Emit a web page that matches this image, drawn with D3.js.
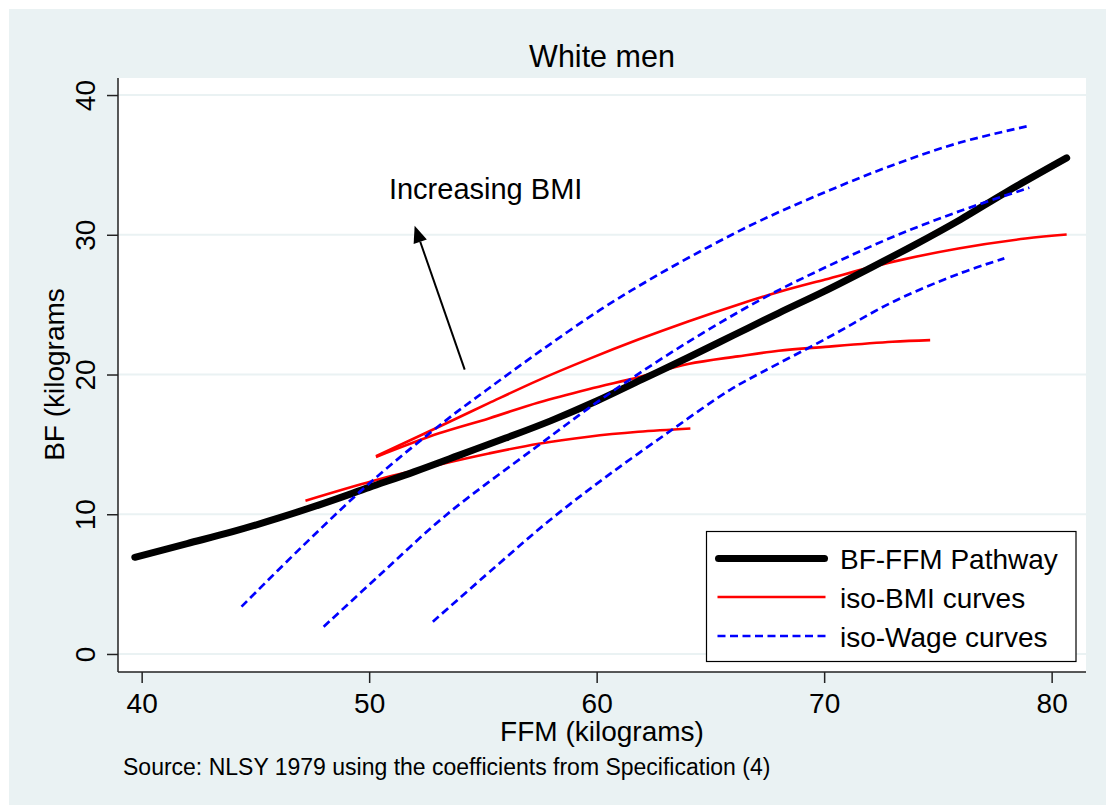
<!DOCTYPE html>
<html>
<head>
<meta charset="utf-8">
<script src="https://cdn.jsdelivr.net/npm/d3@7"></script>
<style>
  html, body { margin: 0; padding: 0; background: #fff; }
  svg { display: block; font-family: "Liberation Sans", Arial, sans-serif; }
</style>
</head>
<body>
<div id="chart"></div>
<script>
// ---- data ----
const xTicks = [40, 50, 60, 70, 80];
const yTicks = [0, 10, 20, 30, 40];

// BF-FFM pathway
const pathFFM = [39.7, 42, 44, 46, 48, 50, 52, 54, 56, 58, 60, 62, 64, 66, 68, 70, 72, 74, 76, 78, 80.66];
const pathBF  = [6.92, 7.9, 8.75, 9.72, 10.78, 11.92, 13.05, 14.25, 15.45, 16.7, 18.1, 19.65, 21.2, 22.8, 24.4, 25.95, 27.6, 29.3, 31.1, 33.05, 35.5];

// iso-BMI curves
const bmi1FFM = [47.2, 50.2, 53.07, 55.26, 57.45, 59.64, 61.83, 64.12];
const bmi1BF  = [10.97, 12.4, 13.55, 14.35, 15.05, 15.55, 15.9, 16.14];
const bmi2FFM = [50.3, 53.07, 55.26, 57.45, 59.64, 61.83, 64.02, 66.21, 68.0, 70.05, 73.0, 75.9, 78.85, 80.66];
const bmi2BF  = [14.15, 16.26, 17.95, 19.6, 21.1, 22.5, 23.8, 25.0, 25.9, 26.8, 28.06, 29.02, 29.73, 30.02];
const bmi3FFM = [50.3, 53.07, 55.26, 57.45, 59.64, 61.83, 64.02, 66.21, 68.0, 70.05, 73.0, 74.66];
const bmi3BF  = [14.1, 15.79, 16.86, 18.0, 18.95, 19.8, 20.75, 21.3, 21.7, 21.98, 22.34, 22.46];

// iso-Wage curves
const wage1FFM = [44.39, 47, 50.09, 53.39, 55.16, 57.5, 60.15, 62.5, 65, 67.18, 70.11, 73.04, 75.97, 79.02];
const wage1BF  = [3.39, 7.6, 12.33, 16.74, 18.89, 21.65, 24.62, 26.95, 29.2, 31.0, 33.1, 35.0, 36.6, 37.8];
const wage2FFM = [48.0, 50.5, 53.39, 57.36, 60.15, 63.5, 67.18, 70.11, 73.04, 75.97, 79.02];
const wage2BF  = [1.95, 5.7, 9.95, 14.83, 18.17, 21.8, 25.33, 27.71, 29.86, 31.7, 33.37];
const wage3FFM = [52.8, 55.5, 57.95, 60.5, 63.3, 65.85, 67.18, 70.11, 73.04, 75.97, 77.92];
const wage3BF  = [2.31, 6.17, 9.59, 12.78, 16.03, 18.89, 20.09, 22.59, 25.21, 27.24, 28.31];

// annotation
const arrowFrom = [54.2, 20.35];
const arrowTo = [52.0, 30.65];
const noteAt = [50.87, 32.54];

const legendItems = ['BF-FFM Pathway', 'iso-BMI curves', 'iso-Wage curves'];

// ---- layout ----
const W = 1106, H = 805;
const plot = { left: 118, top: 78, right: 1086, bottom: 672 };
const bg = '#eaf2f3';
const font = 28;

const svg = d3.select('#chart').append('svg')
    .attr('width', W)
    .attr('height', H);

svg.append('rect')
    .attr('x', 9).attr('y', 9)
    .attr('width', W - 9).attr('height', H - 9)
    .attr('fill', bg);

svg.append('rect')
    .attr('x', plot.left).attr('y', plot.top)
    .attr('width', plot.right - plot.left)
    .attr('height', plot.bottom - plot.top)
    .attr('fill', '#fff');

const x = d3.scaleLinear().domain([38.96, 81.51]).range([plot.left, plot.right]);
const y = d3.scaleLinear().domain([-1.29, 41.22]).range([plot.bottom, plot.top]);

// grid
svg.append('g')
    .selectAll('line')
    .data(yTicks)
    .enter()
    .append('line')
    .attr('x1', plot.left).attr('x2', plot.right)
    .attr('y1', d => y(d)).attr('y2', d => y(d))
    .attr('stroke', bg)
    .attr('stroke-width', 2);

// axes
const xAxis = svg.append('g')
    .attr('transform', `translate(0,${plot.bottom})`)
    .call(d3.axisBottom(x).tickValues(xTicks).tickSize(11).tickSizeOuter(0));
const yAxis = svg.append('g')
    .attr('transform', `translate(${plot.left},0)`)
    .call(d3.axisLeft(y).tickValues(yTicks).tickSize(11).tickSizeOuter(0));

[xAxis, yAxis].forEach(g => {
    g.select('.domain').attr('stroke', '#222').attr('stroke-width', 1.5);
    g.selectAll('.tick line').attr('stroke', '#222').attr('stroke-width', 1.5);
    g.selectAll('text').attr('font-size', font).attr('fill', '#000')
        .attr('font-family', '"Liberation Sans", Arial, sans-serif');
});
// axis lines run the full plot region
xAxis.select('.domain').attr('d', `M${plot.left},0H${plot.right}`);
yAxis.select('.domain').attr('d', `M0,${plot.top}V${plot.bottom}`);

xAxis.selectAll('.tick text').attr('dy', null).attr('y', 41);
yAxis.selectAll('.tick text')
    .attr('x', null).attr('dy', null)
    .attr('text-anchor', 'middle')
    .attr('transform', 'translate(-23,0) rotate(-90)');

// titles
svg.append('text')
    .attr('x', (plot.left + plot.right) / 2).attr('y', 67)
    .attr('text-anchor', 'middle')
    .attr('font-size', 30.5)
    .text('White men');

svg.append('text')
    .attr('x', (plot.left + plot.right) / 2).attr('y', 741)
    .attr('text-anchor', 'middle')
    .attr('font-size', font)
    .text('FFM (kilograms)');

svg.append('text')
    .attr('transform', `translate(64,${y(20)}) rotate(-90)`)
    .attr('text-anchor', 'middle')
    .attr('font-size', font)
    .text('BF (kilograms');

svg.append('text')
    .attr('x', 123).attr('y', 775)
    .attr('font-size', 23)
    .text('Source: NLSY 1979 using the coefficients from Specification (4)');

// curves
const line = d3.line()
    .x(d => x(d[0]))
    .y(d => y(d[1]))
    .curve(d3.curveCatmullRom.alpha(0.5));

const zip = (a, b) => a.map((v, i) => [v, b[i]]);

const wages = [zip(wage1FFM, wage1BF), zip(wage2FFM, wage2BF), zip(wage3FFM, wage3BF)];
const bmis = [zip(bmi1FFM, bmi1BF), zip(bmi2FFM, bmi2BF), zip(bmi3FFM, bmi3BF)];

const curves = svg.append('g');

curves.selectAll('path.bmi')
    .data(bmis)
    .enter()
    .append('path')
    .attr('class', 'bmi')
    .attr('d', line)
    .attr('fill', 'none')
    .attr('stroke', '#ff0000')
    .attr('stroke-width', 2.6);

curves.append('path')
    .attr('d', line(zip(pathFFM, pathBF)))
    .attr('fill', 'none')
    .attr('stroke', '#000')
    .attr('stroke-width', 7)
    .attr('stroke-linecap', 'round')
    .attr('stroke-linejoin', 'round');

curves.selectAll('path.wage')
    .data(wages)
    .enter()
    .append('path')
    .attr('class', 'wage')
    .attr('d', line)
    .attr('fill', 'none')
    .attr('stroke', '#0000ff')
    .attr('stroke-width', 2.7)
    .attr('stroke-dasharray', '8,4.5');

// annotation arrow
const ax0 = x(arrowFrom[0]), ay0 = y(arrowFrom[1]);
const ax1 = x(arrowTo[0]), ay1 = y(arrowTo[1]);
const ang = Math.atan2(ay1 - ay0, ax1 - ax0);
const headLen = 17, headHalf = 7;
const bx = ax1 - headLen * Math.cos(ang), by = ay1 - headLen * Math.sin(ang);

svg.append('line')
    .attr('x1', ax0).attr('y1', ay0)
    .attr('x2', bx).attr('y2', by)
    .attr('stroke', '#000')
    .attr('stroke-width', 2);

svg.append('path')
    .attr('d', `M${ax1},${ay1}L${bx + headHalf * Math.sin(ang)},${by - headHalf * Math.cos(ang)}L${bx - headHalf * Math.sin(ang)},${by + headHalf * Math.cos(ang)}Z`)
    .attr('fill', '#000');

svg.append('text')
    .attr('x', x(noteAt[0])).attr('y', y(noteAt[1]))
    .attr('font-size', 29)
    .text('Increasing BMI');

// legend
const legend = svg.append('g').attr('transform', 'translate(706.5,531.5)');
legend.append('rect')
    .attr('width', 369.5).attr('height', 130)
    .attr('fill', '#fff')
    .attr('stroke', '#000')
    .attr('stroke-width', 1.2);

const rows = legend.selectAll('g.row')
    .data(legendItems)
    .enter()
    .append('g')
    .attr('class', 'row')
    .attr('transform', (d, i) => `translate(0,${[27, 65.5, 104.5][i]})`);

rows.append('line')
    .attr('x1', (d, i) => i === 0 ? 12 : 11)
    .attr('x2', (d, i) => i === 0 ? 118 : 119)
    .attr('stroke', (d, i) => ['#000', '#ff0000', '#0000ff'][i])
    .attr('stroke-width', (d, i) => [7, 2.6, 2.7][i])
    .attr('stroke-linecap', (d, i) => i === 0 ? 'round' : 'butt')
    .attr('stroke-dasharray', (d, i) => i === 2 ? '8,4.5' : null);

rows.append('text')
    .attr('x', 133.5).attr('y', 10.5)
    .attr('font-size', font)
    .text(d => d);
</script>
</body>
</html>
